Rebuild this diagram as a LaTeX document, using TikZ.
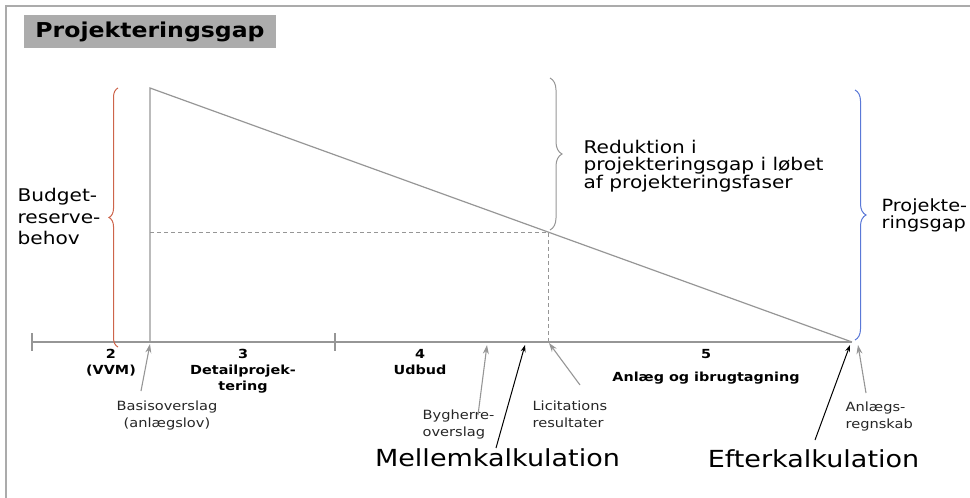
\documentclass[tikz,border=0pt]{standalone}
\usepackage{fontspec}
\setmainfont{DejaVu Sans}[FakeStretch=1.15]
\usetikzlibrary{decorations.pathreplacing,arrows.meta}

\definecolor{linegray}{RGB}{150,150,150}
\definecolor{titlegray}{RGB}{172,172,172}
\definecolor{bracered}{RGB}{205,100,75}
\definecolor{braceblue}{RGB}{90,120,215}

\tikzset{
  phase/.style={font=\bfseries\fontsize{12.5}{16}\selectfont, align=center, inner sep=0},
  note/.style={font=\fontsize{12.7}{17}\selectfont, align=left, inner sep=0, text=black!85},
  side/.style={font=\fontsize{17.5}{21.5}\selectfont, align=left, inner sep=0},
  calcname/.style={font=\fontsize{23.5}{26}\selectfont, inner sep=0},
  gaparrow/.style={-{Stealth[length=9,width=6]}, linegray, line width=1.1},
  calcarrow/.style={-{Stealth[length=7,width=5]}, black, line width=1}
}

\begin{document}
\begin{tikzpicture}[x=1pt, y=-1pt, line width=1.2]
        \useasboundingbox (0,0) rectangle (970,498);
        \def\axisY{342} \def\topY{88} \def\startX{150} \def\endX{852}
        % frame and title
        \draw[linegray!80, line width=1.4] (6,498) -- (6,6) -- (970,6);
        \node[fill=titlegray, minimum width=252, minimum height=33, font=\bfseries\fontsize{20.5}{22}\selectfont] (title) at (150,31.5) {Projekteringsgap};
        % time axis and gap triangle
        \coordinate (axisleft) at (32,\axisY);
        \coordinate (top) at (\startX,\topY);
        \coordinate (foot) at (\startX,\axisY);
        \coordinate (end) at (\endX,\axisY);
        \coordinate (cross) at (548,232);
        \coordinate (crossleft) at (\startX,232);
        \coordinate (crossfoot) at (548,\axisY);
        \draw[linegray] (axisleft) -- (end);
        \draw[linegray] (32,333) -- (32,351);
        \draw[linegray] (335,333) -- (335,351);
        \draw[linegray] (foot) -- (top) -- (end);
        \draw[linegray, line width=1, dash pattern=on 4 off 3] (crossleft) -- (cross) -- (crossfoot);
        % braces
        \draw[bracered, line width=1, decorate, decoration={brace, amplitude=9}] (118,347) -- (118,88);
        \draw[linegray, line width=1, decorate, decoration={brace, amplitude=12}] (550,78) -- (550,230);
        \draw[braceblue, line width=1, decorate, decoration={brace, amplitude=11}] (855,90) -- (855,340);
        \node[side, anchor=north west] (budget) at (17,188) {Budget-\\reserve-\\behov};
        \node[side, anchor=north west, font=\fontsize{17.5}{16.5}\selectfont] (reduktion) at (583,140) {Reduktion i\\projekteringsgap i løbet\\af projekteringsfaser};
        \node[side, anchor=north west, font=\fontsize{16.8}{15.5}\selectfont] (gap) at (881,198) {Projekte-\\ringsgap};
        % phases
        \node[phase, anchor=north] (phase2) at (111,349) {2\\(VVM)};
        \node[phase, anchor=north] (phase3) at (243,349) {3\\Detailprojek-\\tering};
        \node[phase, anchor=north] (phase4) at (420,349) {4\\Udbud};
        \node[phase, anchor=north] (phase5) at (706,349) {5\\[7pt]Anlæg og ibrugtagning};
        % estimates
        \node[note, align=center, anchor=north] (basis) at (167,400) {Basisoverslag\\(anlægslov)};
        \node[note, anchor=north west] (bygherre) at (422,409) {Bygherre-\\overslag};
        \node[note, anchor=north west] (licitation) at (532,400) {Licitations\\resultater};
        \node[note, anchor=north west] (regnskab) at (845,401) {Anlægs-\\regnskab};
        \node[calcname] (mellem) at (497.5,458) {Mellemkalkulation};
        \node[calcname] (efter) at (813.5,459) {Efterkalkulation};
        \coordinate (basistail) at (141,391);
        \coordinate (basistip) at (150,344);
        \coordinate (bygtail) at (478,415);
        \coordinate (bygtip) at (487,345);
        \coordinate (mellemtail) at (496,448);
        \coordinate (mellemtip) at (525,345);
        \coordinate (licittail) at (580,385);
        \coordinate (licittip) at (549,343);
        \coordinate (eftertail) at (815,440);
        \coordinate (eftertip) at (850,345);
        \coordinate (regnskabtail) at (866,393);
        \coordinate (regnskabtip) at (858,345);
        \draw[gaparrow] (basistail) -- (basistip);
        \draw[gaparrow] (bygtail) -- (bygtip);
        \draw[calcarrow] (mellemtail) -- (mellemtip);
        \draw[gaparrow] (licittail) -- (licittip);
        \draw[calcarrow] (eftertail) -- (eftertip);
        \draw[gaparrow] (regnskabtail) -- (regnskabtip);
    \end{tikzpicture}
\end{document}
